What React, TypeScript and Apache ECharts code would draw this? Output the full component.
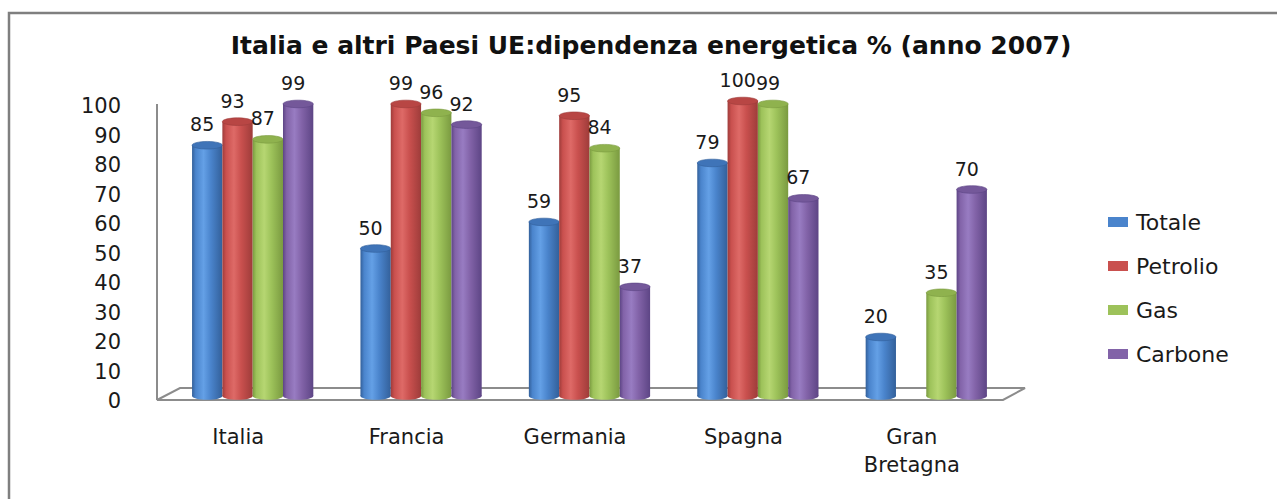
import React, { useEffect, useRef } from "react";
import * as echarts from "echarts";

const titleText = "Italia e altri Paesi UE:dipendenza energetica % (anno 2007)";
const categories = ["Italia", "Francia", "Germania", "Spagna", "Gran Bretagna"];
const seriesNames = ["Totale", "Petrolio", "Gas", "Carbone"];
const totale = [85, 50, 59, 79, 20];
const petrolio = [93, 99, 95, 100, null];
const gas = [87, 96, 84, 99, 35];
const carbone = [99, 92, 37, 67, 70];
const yTicks = [0, 10, 20, 30, 40, 50, 60, 70, 80, 90, 100];

const palette = [
  { dark: "#33609a", light: "#64a0e6", base: "#4a84cc", top: "#3f74b8" },
  { dark: "#9e3c3a", light: "#de6a67", base: "#c9504e", top: "#b84644" },
  { dark: "#7a9a40", light: "#b6d672", base: "#9dc25a", top: "#8fb24e" },
  { dark: "#5d4585", light: "#987cc2", base: "#8263a8", top: "#74589a" },
];

const FONT = "'DejaVu Sans', Verdana, sans-serif";

export default function App() {
  const ref = useRef<HTMLDivElement>(null);
  useEffect(() => {
    if (!ref.current) return;
    const chart = echarts.init(ref.current, undefined, { renderer: "svg" });
    const all = [totale, petrolio, gas, carbone];

    const makeRender = (k: number) => (params: any, api: any) => {
      const v = api.value(1);
      if (v === null || v === undefined || isNaN(v)) return null;
      const cat = api.value(0);
      const top = api.coord([cat, v]);
      const base = api.coord([cat, 0]);
      const band = api.size([1, 0])[0];
      const bw = band * 0.18;
      const cx = top[0] + band * 0.086 + (k - 1.5) * bw;
      const x = cx - bw / 2;
      const ry = 3.8;
      const c = palette[k];
      const grad = {
        type: "linear",
        x: 0,
        y: 0,
        x2: 1,
        y2: 0,
        colorStops: [
          { offset: 0, color: c.dark },
          { offset: 0.12, color: c.base },
          { offset: 0.38, color: c.light },
          { offset: 0.62, color: c.base },
          { offset: 1, color: c.dark },
        ],
      };
      return {
        type: "group",
        children: [
          { type: "ellipse", shape: { cx, cy: base[1], rx: bw / 2, ry }, style: { fill: grad } },
          { type: "rect", shape: { x, y: top[1], width: bw, height: base[1] - top[1] }, style: { fill: grad } },
          {
            type: "ellipse",
            shape: { cx, cy: top[1], rx: bw / 2, ry },
            style: { fill: c.top, stroke: c.dark, lineWidth: 0.6 },
          },
          {
            type: "text",
            style: {
              text: String(v),
              x: cx - 5,
              y: top[1] - 21,
              align: "center",
              verticalAlign: "middle",
              fontSize: 19,
              fontFamily: FONT,
              fill: "#1a1a1a",
            },
          },
        ],
      };
    };

    chart.setOption({
      animation: false,
      backgroundColor: "#ffffff",
      title: {
        text: titleText,
        left: 646,
        top: 28,
        textAlign: "center",
        textStyle: { fontFamily: FONT, fontWeight: "bold", fontSize: 25, color: "#111" },
      },
      legend: {
        orient: "vertical",
        left: 1103,
        top: 206,
        itemWidth: 20,
        itemHeight: 10,
        itemGap: 22,
        icon: "rect",
        data: seriesNames,
        textStyle: { fontFamily: FONT, fontSize: 22, lineHeight: 20, color: "#1a1a1a", padding: [0, 0, 0, 3] },
      },
      grid: { left: 154, width: 842, top: 101, height: 295 },
      xAxis: {
        type: "category",
        data: categories,
        axisLine: { show: false },
        axisTick: { show: false },
        axisLabel: {
          margin: 27,
          interval: 0,
          fontFamily: FONT,
          fontSize: 21,
          lineHeight: 28,
          color: "#1a1a1a",
          formatter: (v: string) => (v === "Gran Bretagna" ? "Gran\nBretagna" : v),
        },
      },
      yAxis: {
        type: "value",
        min: yTicks[0],
        max: yTicks[yTicks.length - 1],
        interval: 10,
        axisLine: { show: false },
        axisTick: { show: false },
        splitLine: { show: false },
        axisLabel: {
          margin: 33,
          fontFamily: FONT,
          fontSize: 21,
          color: "#1a1a1a",
          verticalAlign: "top",
          lineHeight: 10,
        },
      },
      graphic: [
        {
          type: "rect",
          z: -10,
          shape: { x: 9, y: 13, width: 1400, height: 700 },
          style: { fill: "none", stroke: "#7f7f7f", lineWidth: 2.5 },
        },
        {
          type: "polygon",
          z: -5,
          shape: { points: [[157, 400], [1003, 400], [1025, 388], [180, 388]] },
          style: { fill: "#ffffff", stroke: "#8c8c8c", lineWidth: 2 },
        },
        {
          type: "line",
          z: -5,
          shape: { x1: 157, y1: 104, x2: 157, y2: 400 },
          style: { stroke: "#8c8c8c", lineWidth: 2 },
        },
      ],
      series: all.map((arr, k) => ({
        type: "custom",
        name: seriesNames[k],
        z: 5,
        itemStyle: { color: palette[k].base },
        encode: { x: 0, y: 1 },
        data: arr.map((v, i) => [i, v]),
        renderItem: makeRender(k),
      })),
    });
    return () => chart.dispose();
  }, []);
  return (
    <div
      ref={ref}
      style={{ position: "fixed", left: 0, top: 0, width: 1277, height: 499, background: "#fff" }}
    />
  );
}
